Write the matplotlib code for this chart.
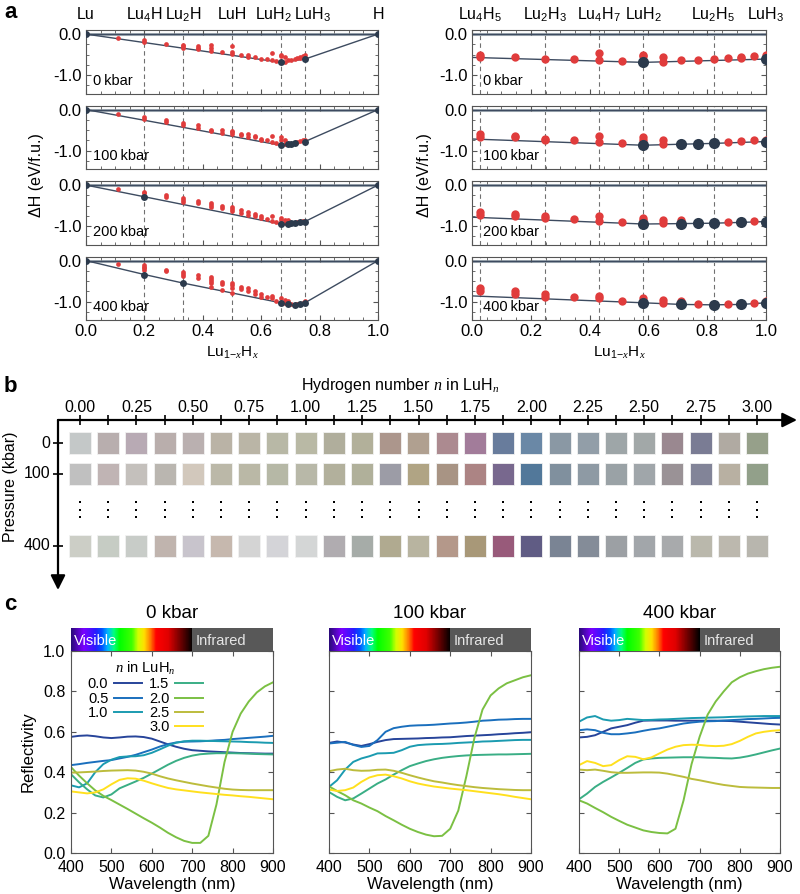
import numpy as np
import matplotlib
matplotlib.use('Agg')
import matplotlib.pyplot as plt
import matplotlib.transforms as mtransforms
from matplotlib.colors import LinearSegmentedColormap
from matplotlib.patches import Rectangle
from matplotlib.lines import Line2D
from matplotlib.ticker import MultipleLocator, FormatStrFormatter

plt.rcParams['font.family'] = ['Liberation Sans', 'DejaVu Sans']
plt.rcParams['axes.unicode_minus'] = False
plt.rcParams['mathtext.fontset'] = 'custom'
plt.rcParams['mathtext.rm'] = 'Liberation Sans'
plt.rcParams['mathtext.it'] = 'Liberation Serif:italic'
plt.rcParams['mathtext.default'] = 'regular'

# ---------------- panel a data: formation enthalpy (eV/f.u.) vs n in LuH_n
pressures_a = [0, 100, 200, 400]

n0_red = [0.125, 0.25, 0.25, 0.375, 0.5, 0.5, 0.5, 0.625, 0.625, 0.625,
          0.75, 0.75, 0.75, 0.875, 1.0, 1.0, 1.0, 1.125, 1.25, 1.25, 1.375,
          1.5, 1.625, 1.75, 1.75, 1.875, 2.0, 2.0, 2.125, 2.125, 2.25,
          2.375, 2.5, 2.625, 2.75, 2.75, 2.875, 3.0]
dh0_red = [-0.09, -0.14, -0.19, -0.25, -0.26, -0.30, -0.34, -0.29, -0.33, -0.375,
           -0.275, -0.34, -0.41, -0.425, -0.30, -0.425, -0.48, -0.51, -0.50, -0.56, -0.56,
           -0.60, -0.61, -0.46, -0.64, -0.66, -0.50, -0.54, -0.57, -0.67, -0.64,
           -0.63, -0.61, -0.59, -0.55, -0.58, -0.53, -0.51]
n0_st = [2.0, 3.0]
dh0_st = [-0.69, -0.61]

n100_red = [0.125, 0.25, 0.25, 0.375, 0.375, 0.5, 0.5, 0.625, 0.625, 0.75, 0.75,
            0.875, 0.875, 1.0, 1.0, 1.0, 1.125, 1.125, 1.25, 1.25, 1.375, 1.375,
            1.5, 1.5, 1.625, 1.75, 1.75, 1.875, 2.0, 2.0, 2.125, 2.125,
            2.625, 2.75, 2.875, 3.0]
dh100_red = [-0.10, -0.18, -0.23, -0.26, -0.31, -0.33, -0.38, -0.38, -0.44, -0.49, -0.53,
             -0.51, -0.57, -0.52, -0.55, -0.60, -0.60, -0.63, -0.60, -0.66, -0.64, -0.68,
             -0.71, -0.74, -0.75, -0.64, -0.78, -0.81, -0.67, -0.73, -0.74, -0.83,
             -0.79, -0.77, -0.74, -0.73]
n100_st = [2.0, 2.25, 2.375, 2.5, 3.0]
dh100_st = [-0.87, -0.845, -0.835, -0.825, -0.78]

n200_red = [0.125, 0.25, 0.25, 0.375, 0.375, 0.5, 0.5, 0.5, 0.625, 0.625,
            0.75, 0.75, 0.75, 0.875, 0.875, 1.0, 1.0, 1.0, 1.125, 1.125,
            1.25, 1.25, 1.375, 1.375, 1.5, 1.5, 1.625, 1.75, 1.75, 1.875,
            2.0, 2.0, 2.125, 2.125, 2.25, 2.625, 2.875]
dh200_red = [-0.09, -0.16, -0.20, -0.24, -0.28, -0.32, -0.37, -0.41, -0.38, -0.43,
             -0.43, -0.48, -0.525, -0.52, -0.57, -0.53, -0.58, -0.63, -0.62, -0.67,
             -0.66, -0.72, -0.70, -0.76, -0.76, -0.81, -0.83, -0.76, -0.87, -0.90,
             -0.81, -0.85, -0.85, -0.92, -0.85, -0.91, -0.88]
n200_st = [0.25, 2.0, 2.25, 2.375, 2.5, 2.75, 3.0]
dh200_st = [-0.285, -0.95, -0.94, -0.935, -0.93, -0.91, -0.89]

n400_red = [0.125, 0.25, 0.25, 0.25, 0.25, 0.375, 0.375, 0.5, 0.5, 0.5, 0.625, 0.625,
            0.75, 0.75, 0.75, 0.75, 0.75, 0.875, 0.875, 0.875, 1.0, 1.0, 1.0, 1.0,
            1.125, 1.125, 1.25, 1.25, 1.375, 1.375, 1.5, 1.5, 1.625, 1.75, 1.75,
            1.875, 2.0, 2.125, 2.125, 2.25, 2.375, 2.625, 2.875, 3.0]
dh400_red = [-0.08, -0.11, -0.15, -0.19, -0.24, -0.22, -0.26, -0.29, -0.33, -0.38, -0.36, -0.42,
             -0.40, -0.45, -0.50, -0.55, -0.65, -0.53, -0.58, -0.72, -0.54, -0.60, -0.67, -0.78,
             -0.64, -0.70, -0.67, -0.73, -0.75, -0.81, -0.82, -0.88, -0.88, -0.86, -0.92,
             -0.98, -0.92, -0.97, -1.03, -0.99, -1.05, -1.06, -1.04, -0.99]
n400_st = [0.25, 0.5, 2.0, 2.25, 2.5, 2.75, 3.0]
dh400_st = [-0.34, -0.55, -1.03, -1.07, -1.08, -1.07, -1.03]

red_n = [n0_red, n100_red, n200_red, n400_red]
red_dh = [dh0_red, dh100_red, dh200_red, dh400_red]
st_n = [n0_st, n100_st, n200_st, n400_st]
st_dh = [dh0_st, dh100_st, dh200_st, dh400_st]

left_names = ['Lu', 'Lu$_4$H', 'Lu$_2$H', 'LuH', 'LuH$_2$', 'LuH$_3$', 'H']
left_name_n = [0.0, 0.25, 0.5, 1.0, 2.0, 3.0, np.inf]
left_name_shift = [0, 0, 0, 0, -7, 8, 0]   # px, to keep LuH2 / LuH3 apart
right_names = ['Lu$_4$H$_5$', 'Lu$_2$H$_3$', 'Lu$_4$H$_7$', 'LuH$_2$', 'Lu$_2$H$_5$', 'LuH$_3$']
right_name_n = [1.25, 1.5, 1.75, 2.0, 2.5, 3.0]

# ---------------- panel b data: simulated colours
n_cols = [0.0, 0.125, 0.25, 0.375, 0.5, 0.625, 0.75, 0.875, 1.0, 1.125, 1.25, 1.375,
          1.5, 1.625, 1.75, 1.875, 2.0, 2.125, 2.25, 2.375, 2.5, 2.625, 2.75, 2.875, 3.0]
n_ticklabels = ['0.00', '0.25', '0.50', '0.75', '1.00', '1.25', '1.50', '1.75',
                '2.00', '2.25', '2.50', '2.75', '3.00']
pressures_b = ['0', '100', '400']
col_0 = ['#c4c8c8', '#b8aeae', '#b8aab4', '#b9aeac', '#bab0b0', '#bab3a6', '#bab5a6',
         '#b8b8a6', '#b9b9a5', '#b0ae9c', '#b2b09a', '#ac968c', '#b0a090', '#ac8a90',
         '#a27c9a', '#687c9c', '#6a88a6', '#8a98a4', '#929ea8', '#9ea6a8', '#a2a8a8',
         '#9a8890', '#7a7c94', '#b0aaa2', '#96a08a']
col_100 = ['#c0c0c0', '#c0b4b4', '#c4c0bc', '#bab6b0', '#d2c8bc', '#bbb8a8', '#bab8a6',
           '#b6b8a6', '#b8b8a8', '#b2b09c', '#b0b09a', '#9c9ca6', '#b0a484', '#a89484',
           '#ac8484', '#78688e', '#52789a', '#80909e', '#8e9aa4', '#9aa2a6', '#a0a6aa',
           '#9a9296', '#828498', '#b8b0a2', '#92a08a']
col_400 = ['#cccec6', '#c6ccc4', '#c8ccc8', '#c0b4ae', '#c8c4cc', '#c6b8ae', '#d4d4d4',
           '#d4d4d8', '#d4d6d6', '#b0acb0', '#a6aca8', '#b0aa90', '#b8b4a0', '#b4988a',
           '#a89878', '#985a7a', '#605c84', '#7a8494', '#848c98', '#9ca0a4', '#a2a6aa',
           '#a8aaac', '#bab8ac', '#bcb8ae', '#b8b6ae']
swatch_rows = [col_0, col_100, col_400]

# ---------------- panel c data: reflectivity
wl = [400, 420, 440, 460, 480, 500, 520, 540, 560, 580, 600, 620, 640,
      660, 680, 700, 720, 740, 760, 780, 800, 820, 840, 860, 880, 900]
n_labels = ['0.0', '0.5', '1.0', '1.5', '2.0', '2.5', '3.0']
line_colors = ['#27449a', '#1a6fbd', '#1b9bb0', '#3aae85', '#7bc043', '#bcbc3c', '#ffe01e']

r0_00 = [.575, .58, .582, .578, .572, .569, .572, .576, .577, .574, .566, .552, .538,
         .526, .516, .509, .506, .503, .501, .499, .497, .495, .494, .493, .492, .492]
r0_05 = [.435, .44, .446, .451, .456, .46, .468, .476, .486, .499, .512, .527, .539,
         .547, .551, .552, .553, .555, .558, .56, .564, .567, .57, .573, .576, .58]
r0_10 = [.335, .325, .345, .40, .44, .462, .475, .478, .479, .484, .496, .513, .531,
         .546, .553, .556, .556, .555, .554, .553, .552, .551, .549, .548, .546, .545]
r0_15 = [.39, .35, .315, .285, .275, .29, .32, .337, .354, .372, .393, .415, .437,
         .456, .471, .482, .489, .492, .494, .494, .494, .493, .492, .49, .489, .488]
r0_20 = [.425, .383, .345, .31, .283, .262, .24, .218, .195, .172, .15, .126, .10,
         .078, .06, .05, .05, .085, .24, .45, .60, .69, .75, .795, .825, .845]
r0_25 = [.398, .399, .401, .403, .406, .408, .409, .41, .408, .402, .393, .38, .369,
         .36, .352, .344, .337, .33, .324, .318, .314, .312, .311, .311, .311, .311]
r0_30 = [.305, .30, .295, .30, .315, .34, .362, .37, .368, .358, .345, .333, .322,
         .315, .31, .305, .30, .296, .292, .288, .285, .281, .278, .274, .27, .266]

r100_00 = [.545, .552, .547, .537, .53, .539, .55, .559, .564, .565, .566, .567, .569,
           .57, .572, .573, .576, .579, .581, .583, .585, .588, .59, .593, .595, .598]
r100_05 = [.542, .546, .55, .535, .525, .53, .559, .60, .618, .625, .63, .632, .633,
           .635, .638, .641, .643, .646, .65, .655, .657, .66, .661, .663, .664, .664]
r100_10 = [.327, .36, .413, .451, .468, .479, .493, .494, .496, .509, .526, .534, .537,
           .539, .54, .542, .545, .547, .549, .552, .553, .555, .557, .559, .56, .56]
r100_15 = [.302, .278, .261, .27, .294, .319, .344, .364, .388, .41, .43, .443, .455,
           .464, .471, .476, .48, .483, .485, .486, .487, .488, .488, .489, .49, .491]
r100_20 = [.33, .307, .286, .261, .245, .225, .207, .183, .162, .14, .12, .104, .091,
           .083, .085, .12, .21, .38, .57, .71, .78, .815, .84, .855, .87, .88]
r100_25 = [.405, .413, .417, .41, .407, .408, .412, .413, .407, .397, .385, .374, .364,
           .355, .349, .342, .336, .331, .326, .322, .319, .316, .314, .312, .311, .311]
r100_30 = [.314, .307, .311, .324, .352, .374, .385, .388, .38, .369, .355, .344, .336,
           .329, .324, .319, .315, .311, .306, .301, .296, .291, .285, .278, .272, .266]

r400_00 = [.572, .575, .583, .60, .617, .625, .633, .645, .655, .656, .656, .656, .655,
           .655, .655, .655, .655, .655, .654, .653, .65, .647, .644, .641, .638, .636]
r400_05 = [.608, .612, .608, .595, .588, .588, .592, .597, .605, .612, .617, .625, .633,
           .641, .646, .65, .652, .653, .656, .658, .66, .663, .664, .666, .668, .669]
r400_10 = [.65, .671, .678, .661, .655, .658, .664, .661, .658, .659, .661, .662, .664,
           .666, .668, .669, .67, .671, .672, .674, .675, .676, .677, .678, .678, .678]
r400_15 = [.266, .294, .327, .352, .374, .397, .421, .446, .463, .468, .471, .472, .473,
           .474, .474, .474, .472, .471, .469, .468, .472, .479, .488, .498, .508, .517]
r400_20 = [.261, .245, .223, .202, .179, .159, .14, .126, .112, .104, .099, .097, .12,
           .26, .44, .575, .685, .75, .80, .845, .87, .888, .90, .91, .917, .922]
r400_25 = [.413, .41, .413, .407, .40, .397, .397, .398, .399, .399, .398, .393, .385,
           .377, .367, .36, .352, .344, .337, .332, .327, .325, .324, .323, .322, .322]
r400_30 = [.435, .455, .446, .43, .435, .46, .479, .476, .464, .473, .493, .512, .526,
           .534, .536, .535, .531, .529, .531, .539, .555, .575, .592, .60, .605, .608]

refl_sets = [[r0_00, r0_05, r0_10, r0_15, r0_20, r0_25, r0_30],
             [r100_00, r100_05, r100_10, r100_15, r100_20, r100_25, r100_30],
             [r400_00, r400_05, r400_10, r400_15, r400_20, r400_25, r400_30]]
pressures_c = ['0 kbar', '100 kbar', '400 kbar']

# ---------------- figure
W, H = 800, 894
fig = plt.figure(figsize=(W / 100, H / 100), dpi=100)


def box(x0, y0, x1, y1):
    return [x0 / W, 1 - y1 / H, (x1 - x0) / W, (y1 - y0) / H]


def fx(x):
    return x / W


def fy(y):
    return 1 - y / H


def comp(n):
    n = np.asarray(n, dtype=float)
    return np.where(np.isinf(n), 1.0, n / (1 + np.where(np.isinf(n), 0, n)))


def zoom_x(X):
    return (np.asarray(X) - 0.55) / 0.2


RED = '#e03c3c'
NAVY = '#2c3a4c'
HULL = '#3d4b60'
SPINE = '#555555'

# ---------------- panel a
tops = [30, 105.5, 181, 256.5]
ax_h = 63.5
for i, p in enumerate(pressures_a):
    X_red = comp(red_n[i])
    X_st = np.concatenate([[0.0], comp(st_n[i]), [1.0]])
    d_st = np.concatenate([[0.0], st_dh[i], [0.0]])
    for side in range(2):
        if side == 0:
            ax = fig.add_axes(box(86, tops[i], 378, tops[i] + ax_h))
            tr = lambda X: np.asarray(X)
            ms_r, ms_s = 3.4, 5.0
            marks = comp(left_name_n)[1:-1]
        else:
            ax = fig.add_axes(box(472, tops[i], 766, tops[i] + ax_h))
            tr = zoom_x
            ms_r, ms_s = 6.0, 8.0
            marks = zoom_x(comp(right_name_n))[:-1]
        for m in marks:
            ax.axvline(m, color='#707070', lw=0.8, ls=(0, (4, 3)), zorder=1)
        ax.axhline(0, color='#9aa4ae', lw=2.2, zorder=1)
        ax.axhline(0, color=HULL, lw=0.8, zorder=2)
        ax.plot(tr(X_st), d_st, '-', color=HULL, lw=1.0, zorder=2)
        ax.plot(tr(X_red), red_dh[i], 'o', ms=ms_r, color=RED, mec='none', zorder=3)
        ax.plot(tr(X_st), d_st, 'o', ms=ms_s, color=NAVY, mec='none', zorder=4)
        ax.set_xlim(0, 1)
        ax.set_ylim(-1.45, 0.1)
        ax.xaxis.set_major_locator(MultipleLocator(0.2))
        ax.xaxis.set_minor_locator(MultipleLocator(0.05))
        ax.yaxis.set_major_locator(MultipleLocator(1.0))
        ax.yaxis.set_minor_locator(MultipleLocator(0.25))
        ax.yaxis.set_major_formatter(FormatStrFormatter('%.1f'))
        ax.xaxis.set_major_formatter(FormatStrFormatter('%.1f'))
        ax.tick_params(which='both', direction='in', top=True, right=True,
                       labelsize=12, color=SPINE, pad=3)
        ax.tick_params(which='major', length=3.5)
        ax.tick_params(which='minor', length=2)
        for s in ax.spines.values():
            s.set_color(SPINE)
            s.set_linewidth(0.8)
        if i < 3:
            ax.set_xticklabels([])
        ax.text(0.025 if side == 0 else 0.037, 0.2, f'{p}\u2009kbar', transform=ax.transAxes,
                fontsize=10.5, va='center', ha='left')
        if i == 0:
            trans = mtransforms.blended_transform_factory(ax.transData, ax.transAxes)
            if side == 0:
                for name, xv, dx in zip(left_names, comp(left_name_n), left_name_shift):
                    ax.text(xv + dx / 292, 1.24, name, transform=trans, ha='center',
                            va='center', fontsize=11.5)
            else:
                for name, xv in zip(right_names, zoom_x(comp(right_name_n))):
                    ax.text(xv, 1.24, name, transform=trans, ha='center', va='center',
                            fontsize=11.5)

xlab = r'Lu$_{1\!-\!\mathit{x}}$H$_{\mathit{x}}$'
fig.text(fx(232), fy(353), xlab, ha='center', va='center', fontsize=11)
fig.text(fx(619), fy(353), xlab, ha='center', va='center', fontsize=11)
fig.text(fx(36), fy(175), '\u0394H (eV/f.u.)', rotation=90, ha='center', va='center', fontsize=11.5)
fig.text(fx(424), fy(175), '\u0394H (eV/f.u.)', rotation=90, ha='center', va='center', fontsize=11.5)

# ---------------- panel b
px_per_n = (757 - 80) / 3.0
axb = fig.add_axes(box(40, 395, 800, 600))
axb.set_xlim((40 - 80) / px_per_n, (800 - 80) / px_per_n)
axb.set_ylim(600 - 420, 395 - 420)
axb.axis('off')
x_axis = (58 - 80) / px_per_n
row_y = [23, 54, 126]
sw = 22
for r, colors in enumerate(swatch_rows):
    for n, c in zip(n_cols, colors):
        axb.add_patch(Rectangle((n - sw / 2 / px_per_n, row_y[r] - sw / 2), sw / px_per_n, sw,
                                facecolor=c, edgecolor='#f2f2f2', lw=0.6))
for n in n_cols:
    axb.scatter([n, n, n], [82, 89.5, 97], s=3, marker='s', color='k', lw=0, zorder=3)
axb.annotate('', xy=((797 - 80) / px_per_n, 0), xytext=(x_axis, 0),
             arrowprops=dict(arrowstyle='-|>', lw=1.6, color='k', mutation_scale=22,
                             shrinkA=0, shrinkB=0))
axb.annotate('', xy=(x_axis, 590 - 420), xytext=(x_axis, 0),
             arrowprops=dict(arrowstyle='-|>', lw=1.6, color='k', mutation_scale=22,
                             shrinkA=0, shrinkB=0))
axb.plot(n_cols, [0] * len(n_cols), ls='none', marker='|', ms=7, mew=1.2, color='k')
for lab, n in zip(n_ticklabels, n_cols[::2]):
    axb.text(n, -13, lab, ha='center', va='center', fontsize=11.5)
for lab, y in zip(pressures_b, row_y):
    axb.plot([x_axis], [y], marker='_', ms=7, mew=1.2, color='k')
    axb.text((50 - 80) / px_per_n, y, lab, ha='right', va='center', fontsize=11.5)
fig.text(fx(400), fy(385), r'Hydrogen number $\mathit{n}$ in LuH$_{\mathit{n}}$',
         ha='center', va='center', fontsize=11.5)
fig.text(fx(11), fy(487), 'Pressure (kbar)', rotation=90, ha='center', va='center', fontsize=11.5)

# ---------------- panel c
spec = LinearSegmentedColormap.from_list('spec', [
    (0.0, '#2b0a7a'), (0.1, '#7a00ff'), (0.2, '#2a1aff'), (0.25, '#0050ff'),
    (0.3, '#00b4ff'), (0.35, '#00ff80'), (0.4, '#00ff00'), (0.5, '#40ff00'),
    (0.55, '#d0ff00'), (0.6, '#ffe000'), (0.65, '#ff8000'), (0.7, '#ff0000'),
    (0.8, '#e00000'), (0.9, '#700000'), (1.0, '#000000')])
cx = [(71, 273), (329, 531), (579, 780)]
for j, (x0, x1) in enumerate(cx):
    ax = fig.add_axes(box(x0, 651, x1, 853))
    handles = []
    for vals, c, lab in zip(refl_sets[j], line_colors, n_labels):
        h, = ax.plot(wl, vals, color=c, lw=1.4, label=lab)
        handles.append(h)
    ax.set_xlim(400, 900)
    ax.set_ylim(0, 1)
    ax.set_xticks([400, 500, 600, 700, 800, 900])
    ax.set_yticks([0, 0.2, 0.4, 0.6, 0.8, 1.0])
    ax.yaxis.set_major_formatter(FormatStrFormatter('%.1f'))
    ax.tick_params(direction='in', top=True, right=True, labelsize=11.5, length=3.5,
                   color=SPINE)
    ax.tick_params(axis='x', pad=5)
    ax.tick_params(axis='y', pad=4)
    for s in ax.spines.values():
        s.set_color(SPINE)
        s.set_linewidth(0.8)
    if j > 0:
        ax.set_yticklabels([])
    if j == 0:
        blank = Line2D([], [], color='none')
        hs = handles[:3] + [blank] + handles[3:]
        ls = n_labels[:3] + [''] + n_labels[3:]
        ax.legend(hs, ls, ncol=2, markerfirst=False, frameon=False,
                  title=r'$\mathit{n}$ in LuH$_{\mathit{n}}$', fontsize=10.5, title_fontsize=10.5,
                  handlelength=1.9, handletextpad=0.4, columnspacing=0.5,
                  labelspacing=0.02, loc='upper left', bbox_to_anchor=(0.04, 1.0),
                  borderaxespad=0.2)
    cb = fig.add_axes(box(x0, 628, x1, 651))
    cb.imshow(np.linspace(0, 1, 300)[None, :], extent=[400, 700, 0, 1], aspect='auto', cmap=spec)
    cb.axvspan(700, 900, color='#585858', lw=0)
    cb.set_xlim(400, 900)
    cb.set_ylim(0, 1)
    cb.axis('off')
    cb.text(408, 0.45, 'Visible', color='white', va='center', ha='left', fontsize=10.5)
    cb.text(709, 0.45, 'Infrared', color='#e6e6e6', va='center', ha='left', fontsize=10.5)
    fig.text(fx((x0 + x1) / 2), fy(613), pressures_c[j], ha='center', va='center', fontsize=13.5)
    fig.text(fx((x0 + x1) / 2), fy(885), 'Wavelength (nm)', ha='center', va='center', fontsize=12)
fig.text(fx(28), fy(752), 'Reflectivity', rotation=90, ha='center', va='center', fontsize=12)

# panel letters
fig.text(fx(4), fy(12), 'a', fontsize=16, fontweight='bold', va='center', ha='left')
fig.text(fx(4), fy(387), 'b', fontsize=16, fontweight='bold', va='center', ha='left')
fig.text(fx(4), fy(605), 'c', fontsize=16, fontweight='bold', va='center', ha='left')

fig.savefig('out.png', dpi=100)
